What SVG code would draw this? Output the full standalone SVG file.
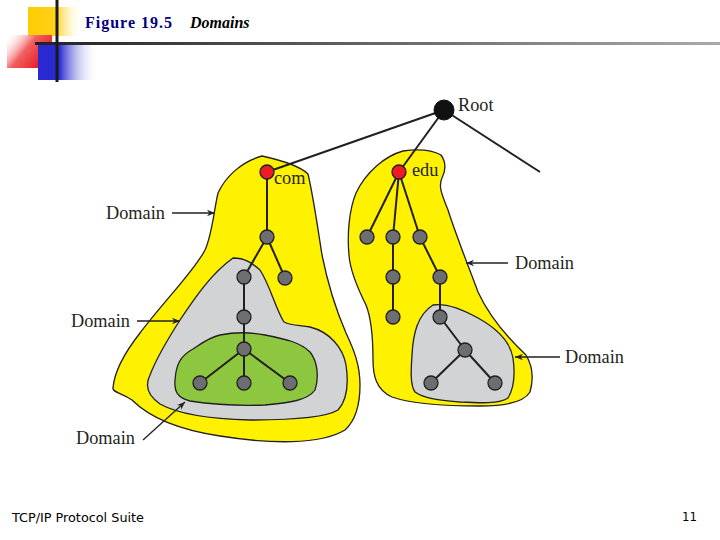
<svg xmlns="http://www.w3.org/2000/svg" width="720" height="540" viewBox="0 0 720 540">
<defs>
<linearGradient id="gy" x1="0" y1="0" x2="1" y2="0"><stop offset="0" stop-color="#ffcc00"/><stop offset="0.5" stop-color="#ffd21a"/><stop offset="1" stop-color="#fff" stop-opacity="0"/></linearGradient>
<linearGradient id="gr" x1="1" y1="0.6" x2="0" y2="0"><stop offset="0" stop-color="#e8161e"/><stop offset="0.5" stop-color="#f06060"/><stop offset="1" stop-color="#fff" stop-opacity="0"/></linearGradient>
<linearGradient id="gb" x1="0" y1="0" x2="1" y2="0"><stop offset="0" stop-color="#2a2ad0"/><stop offset="0.35" stop-color="#2a2ad0"/><stop offset="1" stop-color="#fff" stop-opacity="0"/></linearGradient>
<linearGradient id="gl" x1="0" y1="0" x2="1" y2="0"><stop offset="0" stop-color="#222"/><stop offset="0.5" stop-color="#666"/><stop offset="1" stop-color="#aaa"/></linearGradient>
<marker id="ah" viewBox="0 0 10 10" refX="10" refY="5" markerWidth="8" markerHeight="8" orient="auto" markerUnits="userSpaceOnUse"><path d="M0,1 L10,5 L0,9 L3,5 Z" fill="#222"/></marker>
</defs>
<style>
.lbl{font-family:"Liberation Serif","Times New Roman",serif;font-size:18.3px;fill:#231f20}
.reg{stroke:#231f20;stroke-width:1.3}
.y{fill:#fff200}.g{fill:#d1d3d4}.gr{fill:#8dc63f}
.e{stroke:#231f20;stroke-width:2;fill:none}
.n{fill:#6d6e71;stroke:#231f20;stroke-width:1.3}
.r{fill:#ed1c24;stroke:#231f20;stroke-width:1.3}
.arr{stroke:#231f20;stroke-width:1.3;fill:none;marker-end:url(#ah)}
</style>
<g id="decor">
<rect x="28" y="7" width="55" height="29" fill="url(#gy)"/>
<rect x="7" y="35" width="45" height="33" fill="url(#gr)"/>
<rect x="38" y="45" width="60" height="35" fill="url(#gb)"/>
<rect x="35" y="42" width="685" height="3" fill="url(#gl)"/>
<line x1="57" y1="0" x2="57" y2="82" stroke="#1a1a1a" stroke-width="3"/>
</g>
<g id="title">
<text x="85" y="28" font-family="Liberation Serif,serif" font-size="16" font-weight="bold" fill="#000080" textLength="87">Figure 19.5</text>
<text x="190" y="28" font-family="Liberation Serif,serif" font-size="16" font-weight="bold" font-style="italic" fill="#000">Domains</text>
</g>
<g id="regions">
<path id="yl" class="reg y" d="M262,156 C280,160 300,166 308,174 C314,200 318,230 322,255 C328,285 336,310 346,333 C354,350 360,365 360,385 C360,405 356,420 345,430 C320,445 270,444 220,436 C180,430 150,418 132,400 C122,393 112,392 113,388 C114,375 122,356 140,333 C165,300 195,270 205,250 C212,235 214,210 218,193 C225,178 240,162 262,156 Z"/>
<path id="yr" class="reg y" d="M403,151 C418,149 432,150 441,155 C446,162 446,170 442,178 C438,186 442,195 448,210 C456,235 466,260 478,292 C490,318 510,340 526,355 C532,365 534,378 530,392 C524,402 505,406 480,406 C450,406 415,405 392,397 C376,390 373,375 373,360 C373,340 372,320 366,305 C356,285 350,270 349,255 C347,235 349,210 356,193 C366,172 385,156 403,151 Z"/>
<path id="gl-reg" class="reg g" d="M233,258 C245,258 252,263 260,270 C270,285 276,310 284,322 C292,326 300,325 310,327 C330,332 343,348 346,365 C349,385 347,400 338,410 C325,418 290,420 250,420 C210,419 178,414 160,404 C147,395 145,385 150,375 C155,362 164,345 180,320 C196,296 212,273 233,258 Z"/>
<path id="gr-reg" class="reg g" d="M433,305 C445,303 460,308 478,318 C496,328 510,340 513,358 C515,372 514,388 508,398 C500,404 480,403 460,402 C440,400 425,399 415,392 C410,385 411,370 412,355 C413,335 417,315 433,305 Z"/>
<path id="green" class="reg gr" d="M220,335 C235,332 250,332 265,335 C285,339 300,342 310,352 C318,362 319,378 315,390 C308,400 290,403 265,405 C240,406 210,404 190,401 C178,398 174,392 175,380 C176,365 180,356 193,349 C202,343 210,337 220,335 Z"/>
</g>
<g id="connectors">
<line class="e" x1="444" y1="110" x2="267" y2="172"/>
<line class="e" x1="444" y1="110" x2="399" y2="172"/>
<line class="e" x1="444" y1="110" x2="540" y2="172"/>
<polyline class="e" points="267,172 267,237"/>
<line class="e" x1="267" y1="237" x2="244" y2="277"/>
<line class="e" x1="267" y1="237" x2="285" y2="278"/>
<polyline class="e" points="244,277 244,317 244,349"/>
<line class="e" x1="244" y1="349" x2="200" y2="383"/>
<line class="e" x1="244" y1="349" x2="244" y2="383"/>
<line class="e" x1="244" y1="349" x2="290" y2="383"/>
<line class="e" x1="399" y1="172" x2="367" y2="237"/>
<line class="e" x1="399" y1="172" x2="393" y2="237"/>
<line class="e" x1="399" y1="172" x2="420" y2="237"/>
<polyline class="e" points="393,237 393,277 393,317"/>
<polyline class="e" points="420,237 440,277 440,317 465,350"/>
<line class="e" x1="465" y1="350" x2="431" y2="383"/>
<line class="e" x1="465" y1="350" x2="495" y2="383"/>
<line class="arr" x1="172" y1="213" x2="215" y2="213"/>
<line class="arr" x1="137" y1="321" x2="180" y2="321"/>
<line class="arr" x1="143" y1="440" x2="185" y2="402"/>
<line class="arr" x1="508" y1="263" x2="466" y2="263"/>
<line class="arr" x1="560" y1="357" x2="515" y2="357"/>
</g>
<g id="root"><circle cx="444" cy="110" r="10" fill="#111" stroke="#111"/><text class="lbl" x="458" y="111">Root</text></g>
<g id="com"><circle class="r" cx="267" cy="172" r="7"/><text class="lbl" x="274" y="184">com</text></g>
<g id="edu"><circle class="r" cx="399" cy="172" r="7"/><text class="lbl" x="412" y="176">edu</text></g>
<g id="left-nodes">
<circle class="n" cx="267" cy="237" r="7"/>
<circle class="n" cx="244" cy="277" r="7"/>
<circle class="n" cx="285" cy="278" r="7"/>
<circle class="n" cx="244" cy="317" r="7"/>
<circle class="n" cx="244" cy="349" r="7"/>
<circle class="n" cx="200" cy="383" r="7"/>
<circle class="n" cx="244" cy="383" r="7"/>
<circle class="n" cx="290" cy="383" r="7"/>
</g>
<g id="right-nodes">
<circle class="n" cx="367" cy="237" r="7"/>
<circle class="n" cx="393" cy="237" r="7"/>
<circle class="n" cx="420" cy="237" r="7"/>
<circle class="n" cx="393" cy="277" r="7"/>
<circle class="n" cx="440" cy="277" r="7"/>
<circle class="n" cx="393" cy="317" r="7"/>
<circle class="n" cx="440" cy="317" r="7"/>
<circle class="n" cx="465" cy="350" r="7"/>
<circle class="n" cx="431" cy="383" r="7"/>
<circle class="n" cx="495" cy="383" r="7"/>
</g>
<g id="labels">
<text class="lbl" x="106" y="219">Domain</text>
<text class="lbl" x="71" y="327">Domain</text>
<text class="lbl" x="76" y="444">Domain</text>
<text class="lbl" x="515" y="269">Domain</text>
<text class="lbl" x="565" y="363">Domain</text>
</g>
<g id="footer">
<text x="12" y="522" font-family="DejaVu Sans Condensed,DejaVu Sans,sans-serif" font-size="12" fill="#000" textLength="132" lengthAdjust="spacingAndGlyphs">TCP/IP Protocol Suite</text>
<text x="697" y="521" font-family="DejaVu Sans Condensed,DejaVu Sans,sans-serif" font-size="13" fill="#000" text-anchor="end">11</text>
</g>
</svg>
